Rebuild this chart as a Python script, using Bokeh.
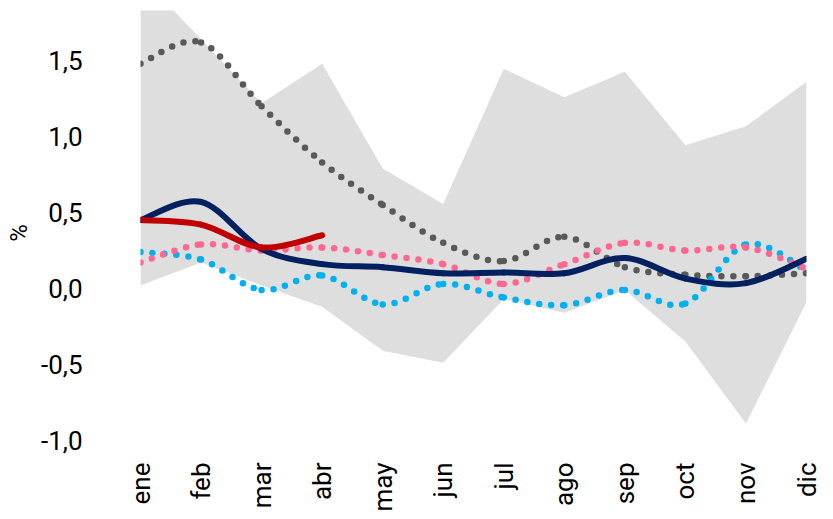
import math
from bokeh.plotting import figure
from bokeh.models import Range1d, FixedTicker
from bokeh.embed import file_html
from bokeh.resources import INLINE

# ---- data ----
months = ["ene", "feb", "mar", "abr", "may", "jun", "jul", "ago", "sep", "oct", "nov", "dic"]
band_upper = [2.06, 1.64, 1.22, 1.48, 0.79, 0.556, 1.446, 1.259, 1.427, 0.943, 1.068, 1.361]
band_lower = [0.02, 0.17, 0.02, -0.12, -0.41, -0.49, -0.07, -0.16, -0.01, -0.35, -0.89, -0.09]
grey_dotted = [1.48, 1.62, 1.20, 0.83, 0.55, 0.30, 0.18, 0.34, 0.14, 0.09, 0.08, 0.10]
pink_dotted = [0.17, 0.29, 0.25, 0.27, 0.22, 0.16, 0.03, 0.16, 0.30, 0.25, 0.27, 0.13]
blue_dotted = [0.24, 0.19, -0.01, 0.085, -0.105, 0.03, -0.06, -0.11, -0.01, -0.10, 0.29, 0.12]
navy_solid = [0.45, 0.57, 0.26, 0.16, 0.14, 0.10, 0.105, 0.10, 0.20, 0.065, 0.035, 0.195]
red_solid = [0.45, 0.42, 0.27, 0.35]
y_ticks = [-1.0, -0.5, 0.0, 0.5, 1.0, 1.5]
y_tick_labels = ["-1,0", "-0,5", "0,0", "0,5", "1,0", "1,5"]

FONT = "Roboto"


def spline_segments(ys):
    """Catmull-Rom smoothing rendered as cubic Bezier segments."""
    n = len(ys)
    xs = list(range(n))
    seg = dict(x0=[], y0=[], x1=[], y1=[], cx0=[], cy0=[], cx1=[], cy1=[])
    for i in range(n - 1):
        ip = max(i - 1, 0)
        inn = min(i + 2, n - 1)
        seg["x0"].append(xs[i]); seg["y0"].append(ys[i])
        seg["x1"].append(xs[i + 1]); seg["y1"].append(ys[i + 1])
        seg["cx0"].append(xs[i] + (xs[i + 1] - xs[ip]) / 6.0)
        seg["cy0"].append(ys[i] + (ys[i + 1] - ys[ip]) / 6.0)
        seg["cx1"].append(xs[i + 1] - (xs[inn] - xs[i]) / 6.0)
        seg["cy1"].append(ys[i + 1] - (ys[inn] - ys[i]) / 6.0)
    return seg


p = figure(width=833, height=519, output_backend="svg", toolbar_location=None,
           x_range=Range1d(0, 11), y_range=Range1d(-1.1, 1.83),
           min_border_left=140, min_border_right=27, min_border_top=10,
           min_border_bottom=64)
p.outline_line_color = None
p.background_fill_color = "white"
p.border_fill_color = "white"
p.grid.grid_line_color = None

idx = list(range(len(months)))
p.varea(x=idx, y1=band_lower, y2=band_upper, fill_color="#DEDEDE", fill_alpha=1.0)

dot_style = dict(line_dash="0 12", line_cap="round", line_width=6.5)
for series, col in [(grey_dotted, "#595959"), (blue_dotted, "#00B0F0"), (pink_dotted, "#FF6690")]:
    p.bezier(line_color=col, **spline_segments(series), **dot_style)

p.bezier(line_color="#002060", line_width=6, line_cap="round", **spline_segments(navy_solid))
p.bezier(line_color="#C00000", line_width=6, line_cap="round", **spline_segments(red_solid))

# x axis
xa = p.xaxis[0]
xa.ticker = FixedTicker(ticks=idx)
xa.major_label_overrides = {i: m for i, m in enumerate(months)}
xa.major_label_orientation = math.pi / 2
xa.axis_line_color = None
xa.major_tick_line_color = None
xa.minor_tick_line_color = None
xa.major_tick_out = 0
xa.major_tick_in = 0
xa.major_label_standoff = 7
xa.major_label_text_font = FONT
xa.major_label_text_font_size = "26px"
xa.major_label_text_color = "#000000"

# y axis
ya = p.yaxis[0]
ya.ticker = FixedTicker(ticks=y_ticks)
ya.major_label_overrides = {t: l for t, l in zip(y_ticks, y_tick_labels)}
ya.axis_line_color = None
ya.major_tick_line_color = None
ya.minor_tick_line_color = None
ya.major_tick_out = 0
ya.major_tick_in = 0
ya.major_label_standoff = 58
ya.major_label_text_font = FONT
ya.major_label_text_font_size = "26px"
ya.major_label_text_color = "#000000"
ya.axis_label = "%"
ya.axis_label_text_font = FONT
ya.axis_label_text_font_size = "24px"
ya.axis_label_text_font_style = "normal"
ya.axis_label_text_color = "#000000"
ya.axis_label_standoff = 5

open("out.html", "w").write(file_html(p, INLINE))
